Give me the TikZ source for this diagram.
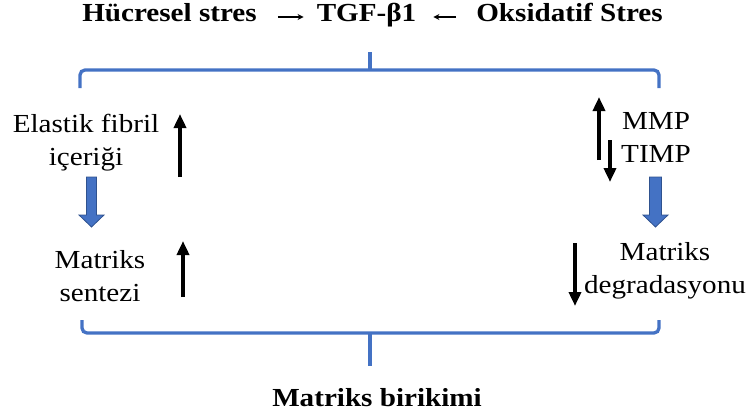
\documentclass[tikz,border=0pt]{standalone}
\usepackage{fontspec}
\setmainfont{Liberation Serif}[FakeStretch=1.12]
\usetikzlibrary{arrows.meta}
\definecolor{wblue}{HTML}{4472C4}
\definecolor{wblueD}{HTML}{2F528F}
\begin{document}
\begin{tikzpicture}[x=1pt,y=-1pt,
  txt/.style={font=\fontsize{26}{33}\selectfont, align=center, inner sep=0pt},
  ttl/.style={font=\fontsize{26}{33}\selectfont\bfseries, inner sep=0pt, text height=12pt, text depth=4pt, anchor=base},
  thinarrow/.style={line width=1.1pt, -{Stealth[length=6pt,width=6pt]}},
  updown/.style={line width=3.6pt, -{Triangle[length=14pt,width=12pt]}},
  brace/.style={wblue, line width=3.3pt, rounded corners=5pt},
  blockarrow/.style={fill=wblue, draw=wblueD, line width=0.8pt, line join=miter}
]
\useasboundingbox (0,0) rectangle (749,418);

% title
\node[ttl] (hucre) at (169.5,21) {Hücresel stres};
\node[ttl] (tgf) at (366.5,21) {TGF-β1};
\node[ttl] (oks) at (569.5,21) {Oksidatif Stres};
\draw[thinarrow, shorten <=21pt, shorten >=13pt] (hucre.east) -- (tgf.west);
\draw[thinarrow, shorten <=20pt, shorten >=17pt] (oks.west) -- (tgf.east);

% top brace
\draw[brace] (80,88) -- (80,70) -- (659,70) -- (659,88);
\draw[wblue, line width=3.3pt] (370,71) -- (370,52);

% bottom brace
\draw[brace] (82,320) -- (82,333) -- (659,333) -- (659,320);
\draw[wblue, line width=3.3pt] (370,332) -- (370,366);

\node[txt, font=\fontsize{26}{33}\selectfont\bfseries] (birikim) at (377,398) {Matriks birikimi};

% left column
\node[txt] (elastik) at (86,142.5) {Elastik fibril\\içeriği};
\node[txt] (sentez) at (100,276) {Matriks\\sentezi};
\coordinate (a1s) at (180,177); \coordinate (a1e) at (180,114);
\coordinate (a2s) at (183,297); \coordinate (a2e) at (183,241);
\draw[updown] (a1s) -- (a1e);
\draw[updown] (a2s) -- (a2e);
\filldraw[blockarrow] (86.5,177) -- (96.5,177) -- (96.5,215) -- (104,215) -- (91.5,227) -- (79,215) -- (86.5,215) -- cycle;

% right column
\node[txt] (mmp) at (656,137) {MMP\\TIMP};
\node[txt] (degr) at (665,271) {Matriks\\degradasyonu};
\coordinate (b1s) at (599,160); \coordinate (b1e) at (599,97);
\coordinate (b2s) at (610,140); \coordinate (b2e) at (610,182);
\coordinate (b3s) at (575,243); \coordinate (b3e) at (575,306);
\draw[updown] (b1s) -- (b1e);
\draw[updown] (b2s) -- (b2e);
\draw[updown] (b3s) -- (b3e);
\filldraw[blockarrow] (649.5,177) -- (661.5,177) -- (661.5,215) -- (668,215) -- (655.5,227) -- (643,215) -- (649.5,215) -- cycle;
\end{tikzpicture}
\end{document}
